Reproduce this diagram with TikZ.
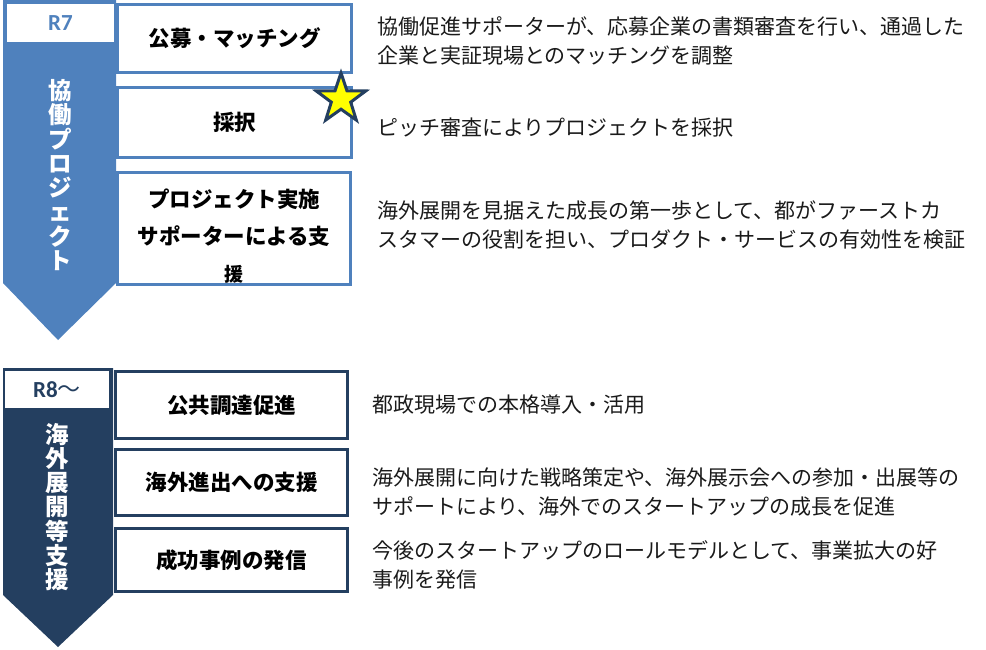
\documentclass[tikz,border=0pt]{standalone}
\usepackage{fontspec}
\setmainfont{Noto Sans CJK JP}
\newfontfamily\tagfont{Carlito}
\usepackage{xcolor}
\definecolor{cMain}{HTML}{4F81BD}
\definecolor{cDark}{HTML}{243F60}
\definecolor{cStar}{HTML}{FFFF00}
\definecolor{cText}{HTML}{1A1A1A}
\usepackage{tikz}
\usetikzlibrary{positioning,shapes.geometric}
\tikzset{
  node-box/.style={draw=cMain,line width=2.5pt,fill=white,inner sep=0pt,
    align=center,font=\bfseries\fontsize{21.5}{37}\selectfont},
  node-box-dark/.style={node-box,draw=cDark,line width=3pt},
  node-label/.style={inner sep=0pt,align=center,font=\bfseries\fontsize{21.5}{37}\selectfont},
  node-tag/.style={fill=white,inner sep=0pt,font=\tagfont\bfseries\fontsize{23}{26}\selectfont},
  node-vtext/.style={text=white,inner sep=0pt,align=center,
    font=\bfseries\fontsize{23.5}{24.3}\selectfont},
  node-desc/.style={anchor=north west,inner sep=0pt,align=left,text=cText,
    font=\fontsize{21}{29}\selectfont},
  node-star/.style={star,star points=5,star point ratio=2.55,minimum size=52pt,
    inner sep=0pt,fill=cStar,draw=cDark,line width=3pt},
}

\begin{document}
\begin{tikzpicture}[x=1pt,y=-1pt]
  \useasboundingbox (0,0) rectangle (986,649);
  % R7: 協働プロジェクト
  \fill[cMain] (3,0) -- (116,0) -- (116,283) -- (58,340) -- (3,283) -- cycle;
  \node[node-tag,text=cMain,minimum width=107pt,minimum height=38pt] (r7) at (60.5,23) {R7};
  \node[node-vtext] (kyodo) at (60,175) {協\\働\\プ\\ロ\\ジ\\ェ\\ク\\ト};
  \node[node-box,minimum width=234pt,minimum height=68pt] (kobo) at (234.5,38.5) {公募・マッチング};
  \node[node-box,minimum width=234pt,minimum height=70pt] (saitaku) at (234.5,122.5) {採択};
  \node[node-box,minimum width=233pt,minimum height=112pt] (jisshi) at (234,228.5) {};
  \node[node-label] (jisshi-txt) at (234,236)
    {プロジェクト実施\\サポーターによる支\\{\fontsize{19}{30}\selectfont 援}};
  \node[node-star] (star) at (341,99) {};
  % R8~: 海外展開等支援
  \fill[cDark] (3,368) -- (113,368) -- (113,595) -- (58,647) -- (3,595) -- cycle;
  \node[node-tag,text=cDark,minimum width=104pt,minimum height=37pt] (r8) at (57,389.5)
    {R8{\rmfamily\mdseries ～}};
  \node[node-vtext] (kaigai) at (57,507) {海\\外\\展\\開\\等\\支\\援};
  \node[node-box-dark,minimum width=232pt,minimum height=67pt] (chotatsu) at (231.5,405) {公共調達促進};
  \node[node-box-dark,minimum width=232pt,minimum height=66pt] (shinshutsu) at (231.5,482.5) {海外進出への支援};
  \node[node-box-dark,minimum width=232pt,minimum height=63pt] (jirei) at (231.5,560) {成功事例の発信};
  % descriptions
  \node[node-desc] (d-kobo) at (377,16) {協働促進サポーターが、応募企業の書類審査を行い、通過した\\企業と実証現場とのマッチングを調整};
  \node[node-desc] (d-saitaku) at (377,118) {ピッチ審査によりプロジェクトを採択};
  \node[node-desc] (d-jisshi) at (377,201) {海外展開を見据えた成長の第一歩として、都がファーストカ\\スタマーの役割を担い、プロダクト・サービスの有効性を検証};
  \node[node-desc] (d-chotatsu) at (372,395) {都政現場での本格導入・活用};
  \node[node-desc] (d-shinshutsu) at (372,468) {海外展開に向けた戦略策定や、海外展示会への参加・出展等の\\サポートにより、海外でのスタートアップの成長を促進};
  \node[node-desc] (d-jirei) at (372,540) {今後のスタートアップのロールモデルとして、事業拡大の好\\事例を発信};
\end{tikzpicture}
\end{document}
